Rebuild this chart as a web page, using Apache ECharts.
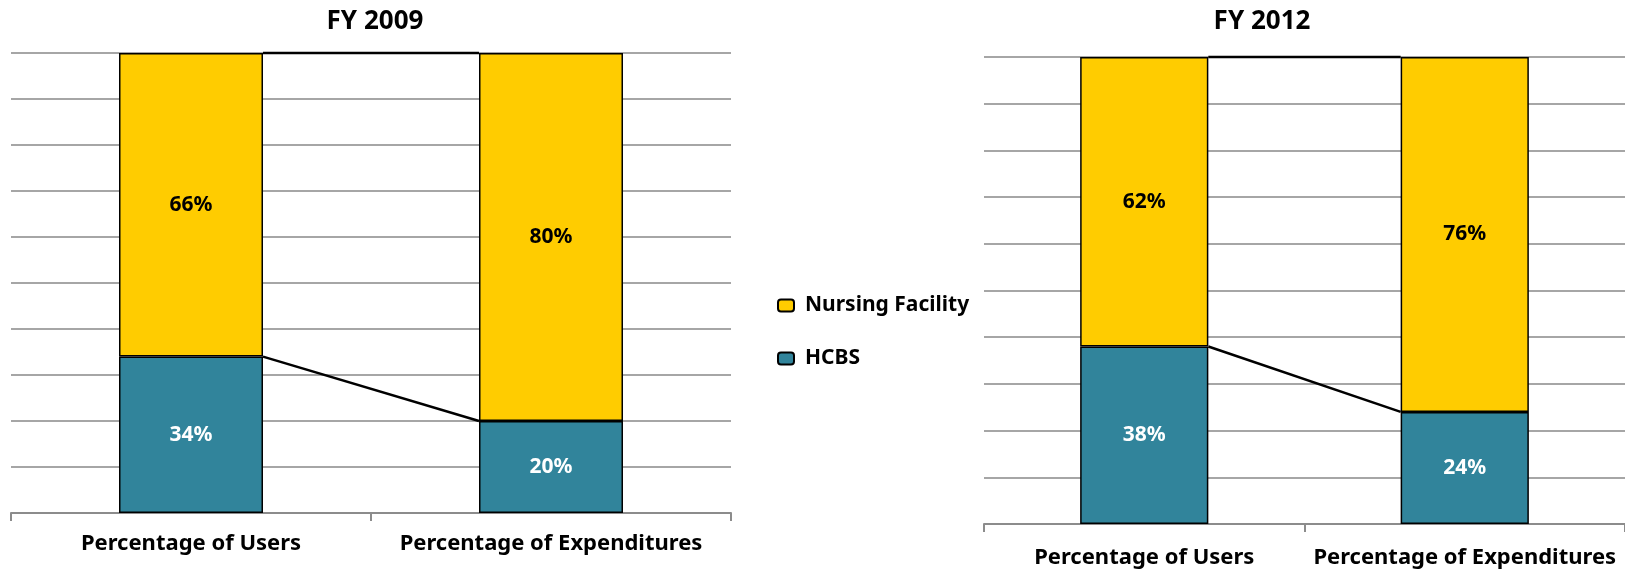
<!DOCTYPE html>
<html>
<head>
<meta charset="utf-8">
<script src="https://cdn.jsdelivr.net/npm/echarts@6/dist/echarts.min.js"></script>
<style>
    html, body { margin: 0; padding: 0; background: #fff; }
    #chart { width: 1625px; height: 573px; }
</style>
</head>
<body>
<div id="chart"></div>
<script>
    // categories and values
    var categories = ['Percentage of Users', 'Percentage of Expenditures']
    var hcbs2009 = [34, 20]
    var nursing2009 = [66, 80]
    var hcbs2012 = [38, 24]
    var nursing2012 = [62, 76]
    var yTicks = [0, 10, 20, 30, 40, 50, 60, 70, 80, 90, 100]

    var yellow = '#FFCC00'
    var teal = '#31849B'
    var font = '"Noto Sans", "Open Sans", sans-serif'

    // line joining the right edge of bar 0 to the left edge of bar 1
    function connector (params, api) {
        var p0 = api.coord([0, api.value(1)])
        var p1 = api.coord([1, api.value(2)])
        var half = api.size([1, 0])[0] * 0.4 / 2
        return {
            type: 'line',
            shape: { x1: p0[0] + half, y1: p0[1], x2: p1[0] - half, y2: p1[1] },
            style: { stroke: '#000', lineWidth: 2.5 }
        }
    }

    function barSeries (name, data, idx, color, labelColor) {
        return {
            name: name,
            type: 'bar',
            stack: 'fy' + idx,
            xAxisIndex: idx,
            yAxisIndex: idx,
            barWidth: '40%',
            data: data,
            itemStyle: { color: color, borderColor: '#000', borderWidth: 1.5 },
            label: {
                show: true,
                position: 'inside',
                formatter: '{c}%',
                color: labelColor,
                fontFamily: font,
                fontWeight: 'bold',
                fontSize: 21
            },
            z: 3
        }
    }

    function lineSeries (idx, hcbs, nursing) {
        return {
            type: 'custom',
            xAxisIndex: idx,
            yAxisIndex: idx,
            renderItem: connector,
            encode: { x: 0, y: [1, 2] },
            data: [
                [0, hcbs[0], hcbs[1]],
                [0, hcbs[0] + nursing[0], hcbs[1] + nursing[1]]
            ],
            silent: true,
            z: 4
        }
    }

    function xAxis (idx, margin) {
        return {
            type: 'category',
            gridIndex: idx,
            data: categories,
            axisLine: { lineStyle: { color: '#8c8c8c', width: 2 } },
            axisTick: { show: true, length: 8, lineStyle: { color: '#8c8c8c', width: 2 } },
            axisLabel: {
                interval: 0,
                hideOverlap: false,
                color: '#000',
                fontFamily: font,
                fontWeight: 'bold',
                fontSize: 22,
                margin: margin
            }
        }
    }

    function yAxis (idx) {
        return {
            type: 'value',
            gridIndex: idx,
            min: yTicks[0],
            max: yTicks[yTicks.length - 1],
            interval: yTicks[1] - yTicks[0],
            axisLabel: { show: false },
            axisLine: { show: false },
            axisTick: { show: false },
            splitLine: { lineStyle: { color: '#a6a6a6', width: 2 } }
        }
    }

    var myChart = echarts.init(document.getElementById('chart'))

    myChart.setOption({
        animation: false,
        title: [{
            text: 'FY 2009',
            left: 370,
            top: 4,
            textAlign: 'center',
            textStyle: { fontFamily: font, fontWeight: 'bold', fontSize: 26, color: '#000' }
        }, {
            text: 'FY 2012',
            left: 1257,
            top: 4,
            textAlign: 'center',
            textStyle: { fontFamily: font, fontWeight: 'bold', fontSize: 26, color: '#000' }
        }],
        legend: {
            orient: 'vertical',
            left: 772,
            top: 290,
            itemWidth: 16,
            itemHeight: 12,
            itemGap: 32,
            data: ['Nursing Facility', 'HCBS'],
            textStyle: {
                fontFamily: font, fontWeight: 'bold', fontSize: 21, lineHeight: 20,
                color: '#000', padding: [0, 0, 0, 6]
            }
        },
        grid: [
            { left: 11, top: 53, width: 720, height: 460 },
            { left: 984, top: 57, width: 642, height: 467 }
        ],
        xAxis: [xAxis(0, 20), xAxis(1, 23)],
        yAxis: [yAxis(0), yAxis(1)],
        series: [
            barSeries('HCBS', hcbs2009, 0, teal, '#fff'),
            barSeries('Nursing Facility', nursing2009, 0, yellow, '#000'),
            barSeries('HCBS', hcbs2012, 1, teal, '#fff'),
            barSeries('Nursing Facility', nursing2012, 1, yellow, '#000'),
            lineSeries(0, hcbs2009, nursing2009),
            lineSeries(1, hcbs2012, nursing2012)
        ]
    })
</script>
</body>
</html>
